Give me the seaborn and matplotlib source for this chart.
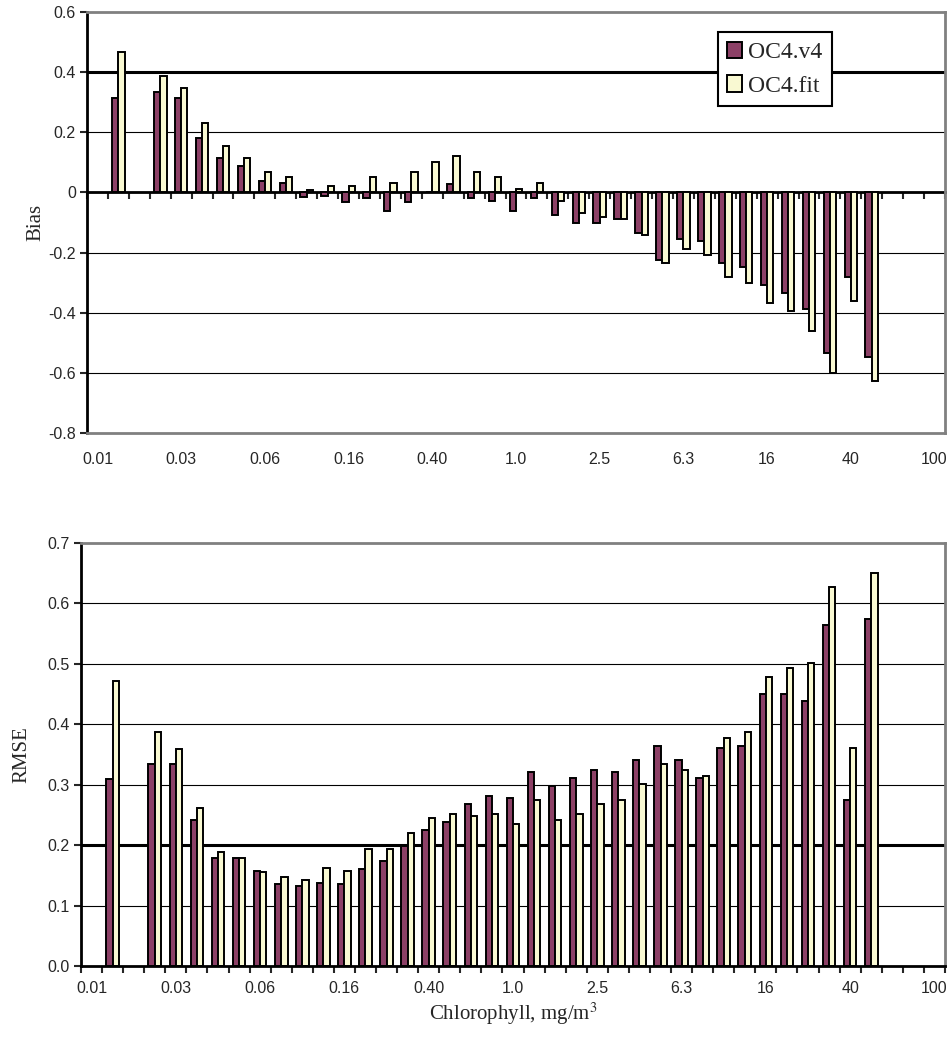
import numpy as np
import pandas as pd
import matplotlib
matplotlib.use("Agg")
import matplotlib.pyplot as plt
import seaborn as sns

# chlorophyll bins, log10 spacing of 0.1 from 0.01 to 100 mg/m3
log_chl = np.round(np.arange(-2.0, 2.01, 0.1), 1)
bins = [str(v) for v in log_chl]
tick_labels = ["0.01", "0.03", "0.06", "0.16", "0.40", "1.0", "2.5", "6.3", "16", "40", "100"]
series = ["OC4.v4", "OC4.fit"]

nan = np.nan
bias_v4 = [nan, 0.313, nan, 0.333, 0.313, 0.181, 0.115, 0.087, 0.039, 0.033,
           -0.014, -0.013, -0.033, -0.020, -0.061, -0.033, 0.0, 0.027, -0.020, -0.028,
           -0.061, -0.020, -0.074, -0.101, -0.101, -0.088, -0.134, -0.225, -0.154, -0.160,
           -0.234, -0.248, -0.308, -0.334, -0.388, -0.533, -0.281, -0.548, nan, nan, nan]
bias_fit = [nan, 0.467, nan, 0.387, 0.347, 0.232, 0.153, 0.115, 0.067, 0.053,
            0.007, 0.020, 0.020, 0.053, 0.033, 0.067, 0.100, 0.120, 0.067, 0.053,
            0.013, 0.033, -0.028, -0.068, -0.081, -0.088, -0.141, -0.234, -0.188, -0.208,
            -0.281, -0.301, -0.368, -0.394, -0.461, -0.600, -0.361, -0.627, nan, nan, nan]
rmse_v4 = [nan, 0.310, nan, 0.334, 0.334, 0.241, 0.178, 0.178, 0.158, 0.135,
           0.132, 0.138, 0.135, 0.161, 0.174, 0.198, 0.225, 0.238, 0.268, 0.281,
           0.278, 0.321, 0.298, 0.311, 0.324, 0.321, 0.341, 0.364, 0.341, 0.311,
           0.361, 0.364, 0.451, 0.451, 0.438, 0.564, 0.274, 0.574, nan, nan, nan]
rmse_fit = [nan, 0.471, nan, 0.387, 0.360, 0.261, 0.188, 0.178, 0.155, 0.148,
            0.142, 0.162, 0.158, 0.194, 0.194, 0.220, 0.245, 0.251, 0.248, 0.251,
            0.235, 0.275, 0.241, 0.251, 0.268, 0.275, 0.301, 0.334, 0.324, 0.314,
            0.378, 0.388, 0.478, 0.494, 0.501, 0.627, 0.361, 0.651, nan, nan, nan]

colors = ["#993366", "#FFFFCC"]

sns.set_style("white")
plt.rcParams["font.family"] = ["Liberation Sans", "DejaVu Sans"]
plt.rcParams["mathtext.fontset"] = "stix"
serif = ["Liberation Serif", "DejaVu Serif"]


def long_table(v4, fit):
    df = pd.DataFrame({"bin": bins * 2,
                       "value": list(v4) + list(fit),
                       "series": [series[0]] * len(bins) + [series[1]] * len(bins)})
    return df.dropna()


def style_axis(ax, ymin, ymax, step, fmt):
    ax.set_xlim(-0.5, len(bins) - 0.5)
    ax.set_ylim(ymin, ymax)
    yt = np.round(np.arange(ymin, ymax + step / 2, step), 2)
    ax.set_yticks(yt)
    ax.set_yticklabels([fmt(v) for v in yt], fontsize=11.5)
    for y in yt[1:-1]:
        ax.axhline(y, color="black", lw=0.8, zorder=0.5)
    ax.set_xticks(range(0, len(bins), 4))
    ax.set_xticklabels(tick_labels, fontsize=11.5)
    ax.tick_params(axis="y", direction="out", length=5, width=1.5, left=True, pad=3)
    for s in ["top", "right"]:
        ax.spines[s].set_color("#808080")
        ax.spines[s].set_linewidth(2)
    ax.spines["left"].set_color("black")
    ax.spines["left"].set_linewidth(2)
    ax.set_xlabel("")


fig = plt.figure(figsize=(9.53, 10.48), dpi=100)
ax1 = fig.add_axes([0.0913, 0.5868, 0.9003, 0.4017])
ax2 = fig.add_axes([0.0850, 0.0782, 0.9066, 0.4036])

# ---- Bias panel
sns.barplot(data=long_table(bias_v4, bias_fit), x="bin", y="value", hue="series",
            order=bins, hue_order=series, palette=colors, width=0.6,
            edgecolor="black", linewidth=1.4, errorbar=None, ax=ax1)
style_axis(ax1, -0.8, 0.6, 0.2, lambda v: "0" if v == 0 else f"{v:g}")
ax1.axhline(0.4, color="black", lw=2.2, zorder=0.6)
ax1.spines["bottom"].set_color("#808080")
ax1.spines["bottom"].set_linewidth(2)
ax1.tick_params(axis="x", length=0, pad=14)
zero_ax = ax1.secondary_xaxis(0.8 / 1.4)
zero_ax.set_alignment("bottom")
zero_ax.set_xticks(np.arange(-0.5, len(bins), 1))
zero_ax.tick_params(axis="x", direction="out", length=5, width=1.5,
                    labelbottom=False, labeltop=False)
zero_ax.spines["bottom"].set_linewidth(2)
zero_ax.spines["bottom"].set_color("black")
ax1.set_ylabel("Bias", family=serif, fontsize=15)
ax1.yaxis.set_label_coords(-0.048, 0.5)

handles, labels = ax1.get_legend_handles_labels()
leg = ax1.legend(handles, labels, loc="upper left", bbox_to_anchor=(0.735, 0.952),
                 prop={"family": serif, "size": 17}, frameon=True, fancybox=False,
                 edgecolor="black", framealpha=1, handlelength=0.65, handleheight=0.7,
                 handletextpad=0.25, borderpad=0.4, labelspacing=0.5, borderaxespad=0)
leg.get_frame().set_linewidth(1.5)

# ---- RMSE panel
sns.barplot(data=long_table(rmse_v4, rmse_fit), x="bin", y="value", hue="series",
            order=bins, hue_order=series, palette=colors, width=0.6,
            edgecolor="black", linewidth=1.4, errorbar=None, legend=False, ax=ax2)
style_axis(ax2, 0.0, 0.7, 0.1, lambda v: f"{v:.1f}")
ax2.axhline(0.2, color="black", lw=2.2, zorder=0.6)
ax2.spines["bottom"].set_color("black")
ax2.spines["bottom"].set_linewidth(2)
ax2.set_xticks(np.arange(-0.5, len(bins), 1), minor=True)
ax2.tick_params(axis="x", which="major", length=0, pad=11)
ax2.tick_params(axis="x", which="minor", direction="out", length=5, width=1.5, bottom=True)
ax2.set_ylabel("RMSE", family=serif, fontsize=15)
ax2.yaxis.set_label_coords(-0.057, 0.5)
ax2.set_xlabel("Chlorophyll, mg/m$^3$", family=serif, fontsize=15, labelpad=3)

fig.savefig("out.png", dpi=100)
